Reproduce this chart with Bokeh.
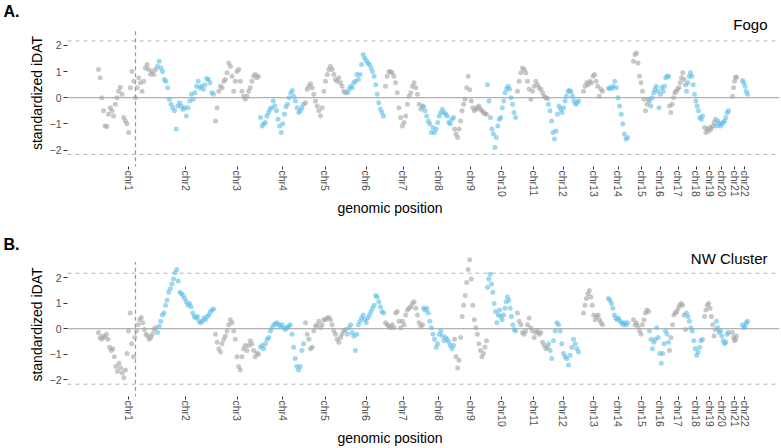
import numpy as np
from bokeh.plotting import figure
from bokeh.layouts import column
from bokeh.models import Range1d, FixedTicker, Label
from bokeh.embed import file_html
from bokeh.resources import INLINE

# ---------------- data ----------------
chrom_names = [f"chr{i}" for i in range(1, 23)]
# genomic extent of each chromosome (plot units along the genome)
chrom_start = [31, 90, 148, 193, 238, 280, 318, 356, 387, 420, 450, 481, 516, 541, 566, 582, 602, 619, 637, 649, 665, 675]
chrom_end = [88, 146, 191, 236, 278, 316, 355, 386, 419, 448, 480, 511, 535, 560, 581, 601, 618, 635, 648, 661, 669, 680]
# chromosome label (tick) positions
chrom_tick = [61, 118.3, 169.7, 215.2, 257.5, 298.5, 335.8, 371, 403.3, 434.2, 466, 495.8, 526.3, 550.8,
              574.2, 592.5, 610.8, 628.5, 642, 654, 667, 677]
genome_end = 712
marker_pos = 68          # red dashed marker on chr1
threshold = 2.17         # dashed threshold lines
y_ticks = [-2, -1, 0, 1, 2]

# Panel A: Fogo, standardized iDAT along each chromosome
fogo_chr1 = [1.08, 0.76, 0.0, -0.5, -1.08, -1.1, -0.63, -0.38, -0.5, -0.7, -0.25, 0.0, 0.25, 0.4, 0.13, -0.76, -0.89,
             -1.0, -1.33, 0.38, 1.0, 0.63, 0.0, 0.38, 0.76, 0.57, 0.25, 0.63, 1.14, 1.27, 1.08, 0.9, 1.0, 0.89, 1.08]
fogo_chr2 = [1.2, 1.39, 1.14, 1.0, 0.7, 0.63, 0.38, -0.06, -0.25, -0.38, -0.5, -1.2, -0.32, -0.19, -0.32, -0.44, -0.38,
             -0.7, -0.38, -0.13, 0.13, -0.06, 0.19, 0.44, 0.63, 0.38, 0.44, 0.32, 0.5, 0.73, 0.7, 0.57, 0.19, 0.13]
fogo_chr3 = [-0.89, -0.38, 0.25, 0.44, 0.38, 0.63, 0.7, 0.95, 1.33, 1.2, 0.82, 0.25, 0.63, 1.0, 1.08, 0.63, 0.25,
             0.06, -0.06, 0.06, 0.25, 0.38, 0.63, 0.82, 0.89, 0.76, 0.82]
fogo_chr4 = [-0.76, -1.08, -1.0, -0.95, -0.7, -0.57, -0.44, -0.38, -0.13, -0.32, -0.5, -0.82, -1.08, -1.33, -1.0,
             -0.63, -0.35, -0.25, 0.0, 0.19, 0.28, 0.06, -0.13, -0.38, -0.57, -0.5, -0.38, -0.25]
fogo_chr5 = [-0.19, 0.32, 0.44, 0.53, 0.38, 0.13, -0.13, -0.32, -0.5, -0.7, -0.38, 0.25, 0.63, 0.89, 1.08, 1.2, 1.08,
             0.89, 0.7, 0.63, 0.76, 0.57, 0.44, 0.25, 0.19]
fogo_chr6 = [0.19, 0.32, 0.44, 0.38, 0.57, 0.63, 0.89, 0.7, 0.89, 1.27, 1.65, 1.52, 1.42, 1.33, 1.27, 1.14, 1.0, 0.82,
             0.5, 0.13, -0.19, -0.44, -0.57, -0.7]
fogo_chr7 = [0.44, 0.82, 1.0, 0.99, 0.95, 0.82, 0.57, 0.19, -0.38, -0.76, -1.08, -0.95, -0.7, -0.25, 0.06, 0.19, 0.44,
             0.57, 0.38, 0.13, -0.25, -0.44, -0.32]
fogo_chr8 = [-0.35, -0.5, -0.7, -0.89, -1.0, -1.33, -1.14, -1.33, -1.2, -0.95, -0.7, -0.57, -0.44, -0.57, -0.63, -0.7,
             -0.95, -1.0, -0.82, -0.76]
fogo_chr9 = [-1.2, -1.39, -1.52, -1.2, -0.89, -0.5, -0.25, -0.06, 0.38, 0.82, 0.3, -0.13, -0.38, -0.5, -0.44, -0.38,
             -0.32, -0.44, -0.5, -0.57, -0.61, -0.63]
fogo_chr10 = [0.5, -0.13, -0.76, -1.2, -1.39, -1.9, -1.52, -1.08, -0.82, -0.76, -0.38, -0.13, 0.19, 0.35, 0.44, 0.32,
              0.0, -0.25, -0.57, -0.76]
fogo_chr11 = [0.25, 0.63, 0.95, 1.14, 1.08, 0.95, 0.63, 0.32, -0.06, 0.25, 0.44, 0.63, 0.5, 0.38, 0.32, 0.19, 0.06,
              0.0, -0.03]
fogo_chr12 = [-0.25, -0.5, -0.89, -1.33, -1.58, -1.27, -0.63, -0.32, -0.44, -0.57, -0.38, -0.13, 0.06, 0.25, 0.28,
              0.23, 0.06, -0.13, -0.25, -0.19, -0.13]
fogo_chr13 = [0.25, 0.44, 0.57, 0.5, 0.63, 0.57, 0.82, 0.89, 0.63, 0.44, 0.06, 0.32, 0.25]
fogo_chr14 = [0.35, 0.38, 0.35, 0.44, 0.63, 0.38, 0.0, -0.32, -0.63, -1.0, -1.39, -1.58, -1.52]
fogo_chr15 = [1.39, 1.65, 1.71, 1.33, 0.82, 0.57, 0.25, -0.06, -0.5, -0.25, -0.06]
fogo_chr16 = [-0.13, -0.32, 0.0, 0.19, 0.32, 0.44, 0.25, -0.38, 0.13, 0.38, 0.25, 0.44, 0.76, 0.82, 0.82]
fogo_chr17 = [-0.32, -0.57, -0.25, 0.0, 0.19, 0.25, 0.32, 0.38, 0.57, 0.76, 0.95, 0.7, 0.5]
fogo_chr18 = [0.25, 0.57, 0.82, 0.95, 0.82, 0.5, 0.13, -0.13, -0.32, -0.5, -0.76, -0.82, -0.7]
fogo_chr19 = [-1.14, -1.33, -1.2, -1.27, -1.14, -1.2, -1.08, -0.95, -0.82]
fogo_chr20 = [-1.08, -0.89, -1.0, -1.08, -1.0, -0.95, -0.89, -0.76, -0.57, -0.5]
fogo_chr21 = [0.06, 0.38, 0.63, 0.78, 0.78]
fogo_chr22 = [0.66, 0.57, 0.44, 0.25, 0.13]

# Panel B: NW Cluster
nw_chr1 = [-0.15, -0.34, -0.41, -0.28, -0.34, -0.22, -0.41, -0.72, -0.85, -0.78, -1.1, -1.48, -1.67, -1.35, -1.54,
           -1.73, -1.92, -1.61, -0.97, -0.09, 0.61, -0.59, -1.1, -0.34, -0.09, 0.16, 0.35, 0.44, 0.23, -0.03, -0.22,
           -0.28, -0.41, -0.34, -0.22, -0.03, 0.04]
nw_chr2 = [-0.15, 0.1, 0.29, 0.54, 0.61, 0.92, 1.11, 1.43, 1.56, 1.75, 1.94, 2.19, 2.32, 1.87, 1.43, 1.37, 1.3, 1.18,
           1.05, 0.92, 0.99, 0.86, 0.61, 0.48, 0.42, 0.48, 0.29, 0.23, 0.29, 0.42, 0.35, 0.48, 0.54, 0.65, 0.73, 0.77]
nw_chr3 = [-0.22, -0.53, -0.78, -0.91, -0.59, -0.41, -0.28, -0.09, 0.16, 0.35, 0.23, -0.09, -0.41, -1.1, -1.48, -1.61,
           -1.1, -0.78, -0.66, -0.85, -0.66, -0.47, -0.6, -0.85, -1.1, -0.95, -1.0]
nw_chr4 = [-0.72, -0.66, -0.78, -0.59, -0.41, -0.34, -0.09, 0.04, 0.16, 0.19, 0.23, 0.16, 0.1, 0.16, 0.04, -0.03, 0.04,
           0.1, 0.16, -0.22, -0.72, -1.16, -1.48, -1.61, -1.48, -0.85, -0.59]
nw_chr5 = [0.23, -0.22, -0.41, -0.78, -0.72, -0.09, 0.1, 0.16, 0.29, 0.04, 0.16, 0.35, 0.35, 0.42, 0.44, 0.35, 0.16,
           -0.09, -0.22, -0.41, -0.53, -0.34, -0.22, -0.09, -0.03]
nw_chr6 = [-0.22, 0.04, 0.16, -0.15, -0.28, -0.85, -0.22, 0.16, 0.29, 0.42, 0.54, 0.35, 0.23, 0.42, 0.54, 0.67, 0.8,
           0.92, 1.3, 1.24, 1.05, 0.86, 0.67, 0.61]
nw_chr7 = [0.23, 0.16, 0.1, 0.04, 0.16, 0.04, 0.61, 0.67, 0.29, 0.04, 0.29, 0.16, 0.54, 0.73, 0.8, 0.86, 0.99, 1.05,
           0.8, 0.54, 0.23, 0.1, 0.16]
nw_chr8 = [0.8, 0.73, 0.8, 0.61, 0.29, 0.04, -0.22, -0.41, -0.72, -0.59, -0.22, -0.09, -0.28, -0.47, -0.34, -0.41,
           -0.53, -0.66, -0.78, -0.66]
nw_chr9 = [-0.41, -1.1, -1.54, -1.23, -0.34, 0.48, 0.92, 1.3, 1.81, 2.32, 2.7, 1.94, 0.92, 0.35, 0.04, -0.22, -0.59,
           -0.85, -1.1, -0.97, -0.72, -0.47]
nw_chr10 = [1.62, 1.94, 2.13, 1.75, 1.43, 0.99, 0.67, 0.23, 0.54, 0.73, 0.48, 0.35, 0.54, 0.8, 1.05, 1.24, 1.11, 0.8,
            0.48, 0.16, -0.03, -0.09]
nw_chr11 = [0.61, 0.29, 0.16, -0.15, -0.22, -0.09, 0.16, 0.42, 0.04, -0.09, -0.34, -0.15, -0.09, -0.22, -0.15, -0.53,
            -0.66, -0.78, -0.72]
nw_chr12 = [-0.59, -0.85, -1.16, -0.47, -0.09, 0.23, 0.16, -0.09, -0.59, -0.97, -1.1, -1.16, -1.42, -1.04, -0.72,
            -0.41, -0.59, -0.78, -0.91]
nw_chr13 = [0.61, 0.92, 1.18, 1.37, 1.49, 1.24, 0.92, 0.54, 0.35, 0.48, 0.54, 0.35, 0.23, 0.16]
nw_chr14 = [1.18, 1.11, 0.99, 0.8, 0.54, 0.42, 0.35, 0.42, 0.29, 0.23, 0.16, 0.23, 0.16, 0.23]
nw_chr15 = [0.35, 0.16, 0.23, 0.1, -0.09, -0.22, 0.16, 0.35, 0.61, 0.73, 0.67]
nw_chr16 = [-0.09, -0.41, -0.78, -0.53, -0.41, 0.04, -0.34, -0.97, -1.35, -0.97, -0.59, -0.09, -0.22, -0.53]
nw_chr17 = [-0.85, -0.34, 0.16, 0.54, 0.61, 0.67, 0.8, 0.92, 0.99, 0.92, 0.54, -0.03]
nw_chr18 = [0.61, 0.48, 0.29, 0.04, -0.09, -0.47, -0.78, -1.04, -0.91, -0.72, -0.47, -0.41]
nw_chr19 = [0.48, 0.73, 0.92, 0.99, 0.8, 0.48, 0.16, -0.28, -0.03]
nw_chr20 = [0.29, 0.04, -0.15, -0.09, -0.28, -0.47, -0.59, -0.53, -0.22, -0.15]
nw_chr21 = [-0.15, -0.34, -0.47, -0.41, -0.28]
nw_chr22 = [0.16, 0.04, 0.1, 0.23, 0.29]

fogo_values = [fogo_chr1, fogo_chr2, fogo_chr3, fogo_chr4, fogo_chr5, fogo_chr6, fogo_chr7, fogo_chr8, fogo_chr9,
               fogo_chr10, fogo_chr11, fogo_chr12, fogo_chr13, fogo_chr14, fogo_chr15, fogo_chr16, fogo_chr17,
               fogo_chr18, fogo_chr19, fogo_chr20, fogo_chr21, fogo_chr22]
nw_values = [nw_chr1, nw_chr2, nw_chr3, nw_chr4, nw_chr5, nw_chr6, nw_chr7, nw_chr8, nw_chr9, nw_chr10, nw_chr11,
             nw_chr12, nw_chr13, nw_chr14, nw_chr15, nw_chr16, nw_chr17, nw_chr18, nw_chr19, nw_chr20, nw_chr21,
             nw_chr22]

# ---------------- style ----------------
FONT = "Liberation Sans"
GRAY = "#a3a3a3"
BLUE = "#5cbde6"
TICK_COL = "#4d4d4d"
AXIS_ROOM = 67   # room on the genome axis left of chr1 for the y axis


def build_points(values):
    xs, ys, cs = [], [], []
    for i, vals in enumerate(values):
        pos = np.linspace(chrom_start[i], chrom_end[i], len(vals))
        xs.extend(pos.tolist())
        ys.extend(vals)
        cs.extend([GRAY if i % 2 == 0 else BLUE] * len(vals))
    return xs, ys, cs


def make_panel(tag, name, values, height, y_lo, y_hi, border_bottom, name_y):
    p = figure(width=781, height=height, output_backend="svg", toolbar_location=None,
               x_range=Range1d(-AXIS_ROOM, genome_end), y_range=Range1d(y_lo, y_hi),
               min_border_left=0, min_border_right=2, min_border_top=18,
               min_border_bottom=border_bottom)
    p.outline_line_color = None
    p.xgrid.visible = False
    p.ygrid.visible = False
    p.background_fill_color = "white"
    p.border_fill_color = "white"

    p.title.text = tag
    p.title.align = "left"
    p.title.offset = 3
    p.title.standoff = 0
    p.title.text_font = FONT
    p.title.text_font_size = "16px"
    p.title.text_font_style = "bold"
    p.title.text_color = "black"

    # reference lines across the genome
    p.segment(x0=[0], y0=[0], x1=[genome_end], y1=[0], line_color="#9e9e9e", line_width=1)
    p.segment(x0=[0, 0], y0=[threshold, -threshold], x1=[genome_end, genome_end], y1=[threshold, -threshold],
              line_color="#b3b3b3", line_width=1, line_dash="4 4")
    p.segment(x0=[marker_pos], y0=[-2.7], x1=[marker_pos], y1=[2.61],
              line_color="#ee4b4e", line_alpha=0.8, line_width=1.2, line_dash="4 3")

    xs, ys, cs = build_points(values)
    p.scatter(xs, ys, size=5, fill_color=cs, fill_alpha=0.6, line_color=None)

    # x axis
    xa = p.xaxis[0]
    xa.ticker = FixedTicker(ticks=chrom_tick)
    xa.major_label_overrides = {t: n for t, n in zip(chrom_tick, chrom_names)}
    xa.major_label_orientation = "vertical"
    xa.axis_line_color = None
    xa.major_tick_in = 0
    xa.major_tick_out = 3
    xa.major_tick_line_color = "#333333"
    xa.minor_tick_line_color = None
    xa.major_label_standoff = 1
    xa.major_label_text_font = FONT
    xa.major_label_text_font_size = "10.5px"
    xa.major_label_text_color = TICK_COL
    xa.axis_label = "genomic position"
    xa.axis_label_text_font = FONT
    xa.axis_label_text_font_size = "14px"
    xa.axis_label_text_font_style = "normal"
    xa.axis_label_text_color = "black"
    xa.axis_label_standoff = 0

    # y axis, pinned at the start of the genome axis
    ya = p.yaxis[0]
    ya.fixed_location = 0
    ya.ticker = FixedTicker(ticks=y_ticks)
    ya.axis_line_color = None
    ya.major_tick_in = 0
    ya.major_tick_out = 4
    ya.major_tick_line_color = "#333333"
    ya.minor_tick_line_color = None
    ya.major_label_standoff = 2
    ya.major_label_text_font = FONT
    ya.major_label_text_font_size = "10.5px"
    ya.major_label_text_color = TICK_COL
    ya.axis_label = "standardized iDAT"
    ya.axis_label_text_font = FONT
    ya.axis_label_text_font_size = "14px"
    ya.axis_label_text_font_style = "normal"
    ya.axis_label_text_color = "black"
    ya.axis_label_standoff = 2

    p.add_layout(Label(x=genome_end, y=name_y, x_offset=-12, text=name, text_align="right",
                       text_baseline="alphabetic", text_font=FONT, text_font_size="15px",
                       text_color="black"))
    return p


pA = make_panel("A.", "Fogo", fogo_values, 233, -2.63, 2.99, 67, 2.80)
pB = make_panel("B.", "NW Cluster", nw_values, 215, -2.65, 2.98, 49, 2.76)

layout = column(pA, pB, spacing=0)
open("out.html", "w").write(file_html(layout, INLINE))
